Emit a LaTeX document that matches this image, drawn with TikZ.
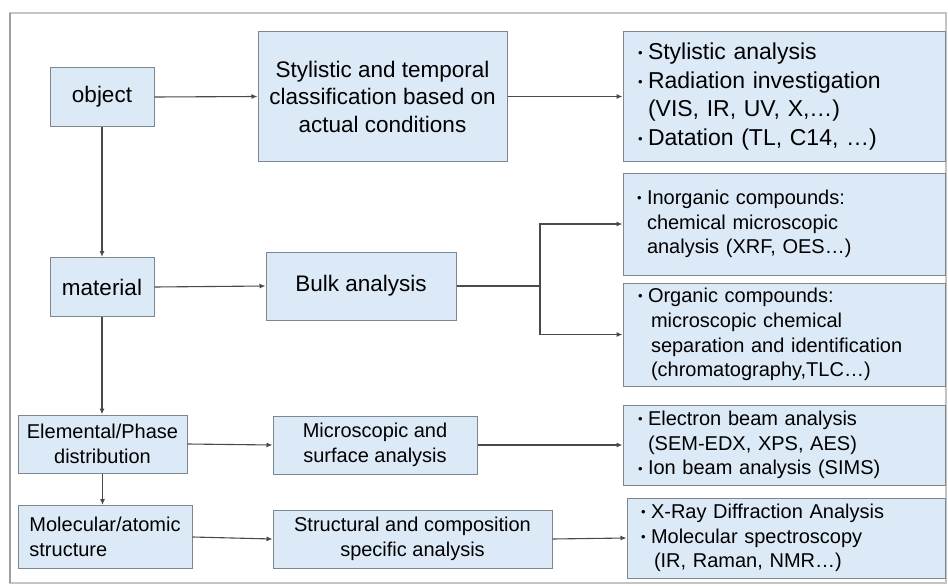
\documentclass[tikz,border=0pt]{standalone}
\usepackage{fontspec}
\setmainfont{Liberation Sans}
\usetikzlibrary{arrows.meta}
\definecolor{boxfill}{HTML}{DCEAF8}
\definecolor{boxline}{HTML}{7E8790}
\definecolor{conn}{HTML}{4A4A4A}
\definecolor{frame}{HTML}{C4C4C4}
\newcommand{\bul}{\makebox[10pt][l]{\raisebox{1.8pt}{\fontsize{13}{13}\selectfont\textbullet}}}
\newcommand{\bsp}{\hspace*{10pt}}
\begin{document}
\begin{tikzpicture}[x=1pt,y=-1pt,
  box/.style={draw=boxline,fill=boxfill,line width=1pt,inner sep=3pt,align=center},
  bigtxt/.style={font=\fontsize{22.5}{27.5}\selectfont},
  bigrtxt/.style={font=\fontsize{23}{28.5}\selectfont},
  smalltxt/.style={font=\fontsize{20}{24.8}\selectfont},
  conn/.style={draw=conn,line width=1.1pt,-{Latex[length=6pt,width=5pt]}},
  plain/.style={draw=conn,line width=1.1pt}]
\useasboundingbox (0,0) rectangle (948,586);
\draw[frame,line width=1.2pt] (10,13) rectangle (946,583);
\draw[gray!75,line width=1.2pt] (10,13) -- (10,583);
% left column
\node[box,bigtxt,minimum width=104pt,minimum height=58pt] (obj) at (102,97) {object};
\node[box,bigtxt,minimum width=104pt,minimum height=59pt] (mat) at (102,287) {material};
\node[box,smalltxt,minimum width=169pt,minimum height=58pt] (elem) at (102.5,444) {Elemental/Phase\\distribution};
\node[box,smalltxt,minimum width=174pt,minimum height=63pt,align=left] (mol) at (105,537) {Molecular/atomic\\structure};
% middle column
\node[box,bigtxt,minimum width=249pt,minimum height=129pt] (styl) at (382.5,96.5) {Stylistic and temporal\\classification based on\\actual conditions};
\node[box,bigtxt,minimum width=190pt,minimum height=68pt] (bulk) at (361,286) {Bulk analysis};
\node[box,smalltxt,minimum width=204pt,minimum height=58pt] (micro) at (375,445) {Microscopic and\\surface analysis};
\node[box,smalltxt,minimum width=279pt,minimum height=58pt] (struct) at (412.5,539) {Structural and composition\\specific analysis};
% right column
\node[box,bigrtxt,minimum width=322pt,minimum height=129pt,text width=292pt,align=left] (r1) at (784,96.5)
 {\bul Stylistic analysis\\\bul Radiation investigation\\\bsp(VIS, IR, UV, X,…)\\\bul Datation (TL, C14, …)};
\node[box,smalltxt,minimum width=322pt,minimum height=102pt,text width=294pt,align=left] (r2) at (784,224)
 {\bul Inorganic compounds:\\\bsp chemical microscopic\\\bsp analysis (XRF, OES…)};
\node[box,smalltxt,minimum width=322pt,minimum height=103pt,text width=292pt,align=left] (r3) at (784,334.5)
 {\bul Organic compounds:\\\hspace*{13pt}microscopic chemical\\\hspace*{13pt}separation and identification\\\hspace*{13pt}(chromatography,TLC…)};
\node[box,smalltxt,minimum width=322pt,minimum height=80pt,text width=292pt,align=left] (r4) at (784,445)
 {\bul Electron beam analysis\\\bsp(SEM-EDX, XPS, AES)\\\bul Ion beam analysis (SIMS)};
\node[box,smalltxt,minimum width=318pt,minimum height=80pt,text width=290pt,align=left] (r5) at (786,538)
 {\bul X-Ray Diffraction Analysis\\\bul Molecular spectroscopy\\\hspace*{13pt}(IR, Raman, NMR…)};
% connectors
\coordinate (j) at (540,286);
\draw[conn] (obj.east) -- (styl.west);
\draw[conn] (styl.east) -- (r1.west);
\draw[conn] (obj.south) -- (mat.north);
\draw[conn] (mat.east) -- (bulk.west);
\draw[plain] (bulk.east) -- (j);
\draw[conn] (j) |- (r2.west);
\draw[conn] (j) |- (r3.west);
\draw[conn] (mat.south) -- (elem.north -| mat.south);
\draw[conn] (elem.east) -- (micro.west);
\draw[conn] (micro.east) -- (r4.west);
\draw[conn] (elem.south) -- (mol.north -| elem.south);
\draw[conn] (mol.east) -- (struct.west);
\draw[conn] (struct.east) -- (r5.west);
\end{tikzpicture}
\end{document}
